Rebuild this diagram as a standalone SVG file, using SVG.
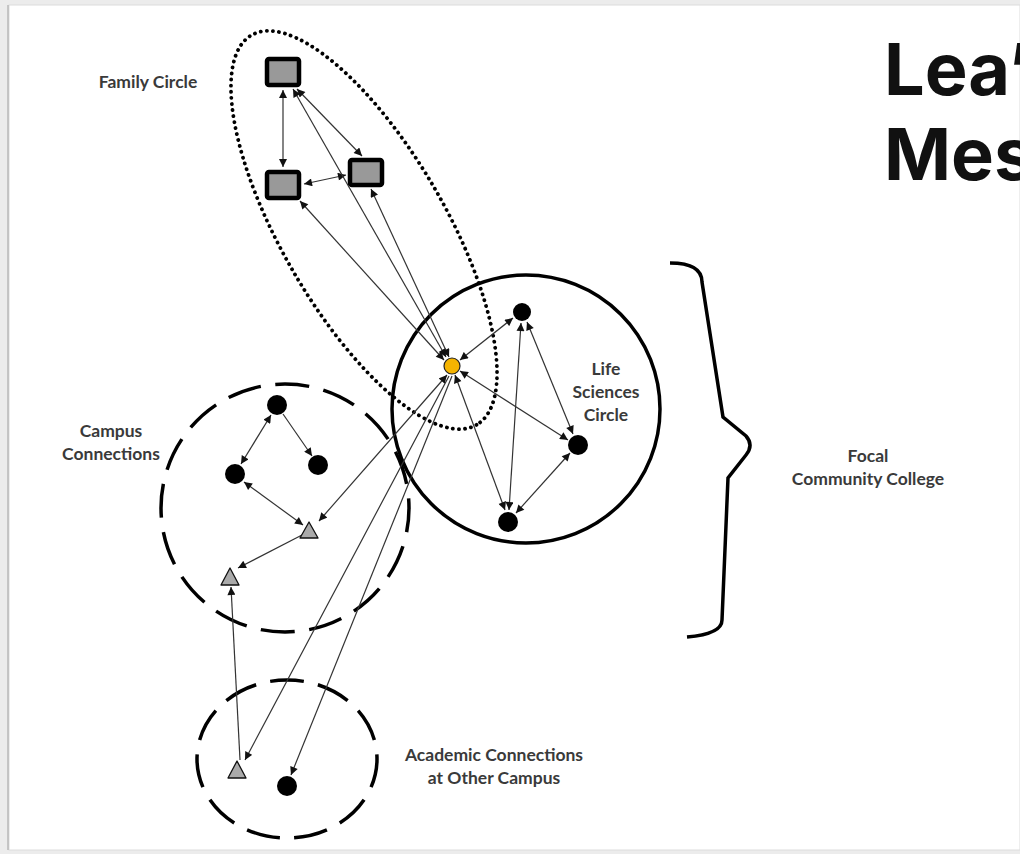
<svg xmlns="http://www.w3.org/2000/svg" width="1020" height="854" viewBox="0 0 1020 854">
  <defs>
    <marker id="arr" viewBox="0 0 10 10" refX="10" refY="5" markerWidth="9" markerHeight="8" markerUnits="userSpaceOnUse" orient="auto-start-reverse">
      <path d="M0,0 L10,5 L0,10 Z" fill="#111"/>
    </marker>
    <style>
      .lbl { font-family: Lato, "Open Sans", sans-serif; font-weight: 700; font-size: 17.5px; fill: #3a3a3a; text-anchor: middle; }
      .title { font-family: Inter, "Noto Sans", sans-serif; font-weight: 700; font-size: 72px; fill: #111; }
      .edge { stroke: #333; stroke-width: 1.2; fill: none; }
      .both { marker-start: url(#arr); marker-end: url(#arr); }
      .end { marker-end: url(#arr); }
      .sq { fill: #999; stroke: #000; stroke-width: 4.5; }
      .dot { fill: #000; }
      .tri { fill: #aaa; stroke: #111; stroke-width: 1.3; stroke-linejoin: round; }
      .bound { fill: none; stroke: #000; stroke-width: 3.5; }
    </style>
  </defs>

  <!-- slide frame -->
  <rect x="0" y="0" width="1020" height="854" fill="#ececec"/>
  <rect x="9" y="5" width="1011" height="845" fill="#fff" stroke="#dcdcdc" stroke-width="1"/>
  <line x1="8" y1="5" x2="8" y2="850" stroke="#b8b8b8" stroke-width="1.5"/>

  <!-- title (runs past the right edge of the slide) -->
  <text class="title" x="884" y="95">Lea’</text>
  <text class="title" x="884" y="180">Mes</text>

  <!-- group boundaries -->
  <g id="family-circle-boundary">
    <ellipse cx="364" cy="230" rx="225" ry="82" transform="rotate(60 364 230)" fill="none" stroke="#000" stroke-width="3.8" stroke-linecap="round" stroke-dasharray="0.1 6"/>
  </g>
  <g id="life-sciences-boundary">
    <circle class="bound" cx="526" cy="409" r="134"/>
  </g>
  <g id="campus-boundary">
    <circle class="bound" cx="285" cy="508" r="124" pathLength="160" stroke-dasharray="7 3" stroke-dashoffset="2"/>
  </g>
  <g id="academic-boundary">
    <ellipse class="bound" cx="287" cy="759" rx="90" ry="79" pathLength="110" stroke-dasharray="7 3" stroke-dashoffset="1"/>
  </g>
  <g id="focal-brace">
    <path class="bound" d="M670,263 C690,263 702,268 702,282 L723,417 L746,436 Q754,445 746,455 L728,478 L722,620 Q722,634 687,637"/>
  </g>

  <!-- connectors -->
  <g id="connectors">
    <line class="edge both" x1="283" y1="90" x2="283" y2="167"/>
    <line class="edge both" x1="297" y1="89" x2="362" y2="156"/>
    <line class="edge both" x1="346" y1="175" x2="304" y2="184"/>
    <line class="edge both" x1="293" y1="89" x2="446" y2="357"/>
    <line class="edge both" x1="371" y1="189" x2="449" y2="357"/>
    <line class="edge both" x1="300" y1="201" x2="444" y2="360"/>

    <line class="edge both" x1="460" y1="360" x2="513" y2="318"/>
    <line class="edge both" x1="460" y1="371" x2="568" y2="440"/>
    <line class="edge both" x1="521" y1="323" x2="509" y2="510"/>
    <line class="edge both" x1="527" y1="322" x2="573" y2="434"/>
    <line class="edge both" x1="516" y1="513" x2="570" y2="453"/>
    <line class="edge both" x1="455" y1="375" x2="505" y2="510"/>

    <line class="edge both" x1="447" y1="375" x2="319" y2="521"/>
    <line class="edge end" x1="449" y1="376" x2="245" y2="760"/>
    <line class="edge end" x1="452" y1="376" x2="291" y2="775"/>

    <line class="edge both" x1="271" y1="415" x2="241" y2="464"/>
    <line class="edge end" x1="283" y1="414" x2="312" y2="456"/>
    <line class="edge both" x1="244" y1="482" x2="303" y2="525"/>
    <line class="edge end" x1="302" y1="535" x2="238" y2="568"/>
    <line class="edge end" x1="240" y1="760" x2="231" y2="587"/>
  </g>

  <!-- family circle -->
  <g id="family-1"><rect class="sq" x="267" y="59" width="32" height="26" rx="2"/></g>
  <g id="family-2"><rect class="sq" x="267" y="172" width="32" height="26" rx="2"/></g>
  <g id="family-3"><rect class="sq" x="350" y="160" width="32" height="25" rx="2"/></g>

  <!-- focal person -->
  <g id="lea"><circle cx="452" cy="366" r="8" fill="#f5b400" stroke="#222" stroke-width="1.2"/></g>

  <!-- life sciences circle -->
  <g id="ls-1"><circle class="dot" cx="522" cy="312" r="9"/></g>
  <g id="ls-2"><circle class="dot" cx="578" cy="445" r="10"/></g>
  <g id="ls-3"><circle class="dot" cx="508" cy="522" r="10"/></g>

  <!-- campus connections -->
  <g id="campus-1"><circle class="dot" cx="277" cy="405" r="10"/></g>
  <g id="campus-2"><circle class="dot" cx="235" cy="474" r="10"/></g>
  <g id="campus-3"><circle class="dot" cx="318" cy="465" r="10"/></g>
  <g id="campus-4"><polygon class="tri" points="309,522 300,538 318,538"/></g>
  <g id="campus-5"><polygon class="tri" points="230,568 221,585 239,585"/></g>

  <!-- academic connections at other campus -->
  <g id="academic-1"><polygon class="tri" points="237,761 228,778 246,778"/></g>
  <g id="academic-2"><circle class="dot" cx="287" cy="786" r="10"/></g>

  <!-- labels -->
  <g id="labels">
    <text class="lbl" x="148" y="88">Family Circle</text>
    <text class="lbl" x="111" y="437">Campus</text>
    <text class="lbl" x="111" y="460">Connections</text>
    <text class="lbl" x="606" y="375">Life</text>
    <text class="lbl" x="606" y="398">Sciences</text>
    <text class="lbl" x="606" y="421">Circle</text>
    <text class="lbl" x="868" y="462">Focal</text>
    <text class="lbl" x="868" y="485">Community College</text>
    <text class="lbl" x="494" y="761">Academic Connections</text>
    <text class="lbl" x="494" y="784">at Other Campus</text>
  </g>
</svg>
